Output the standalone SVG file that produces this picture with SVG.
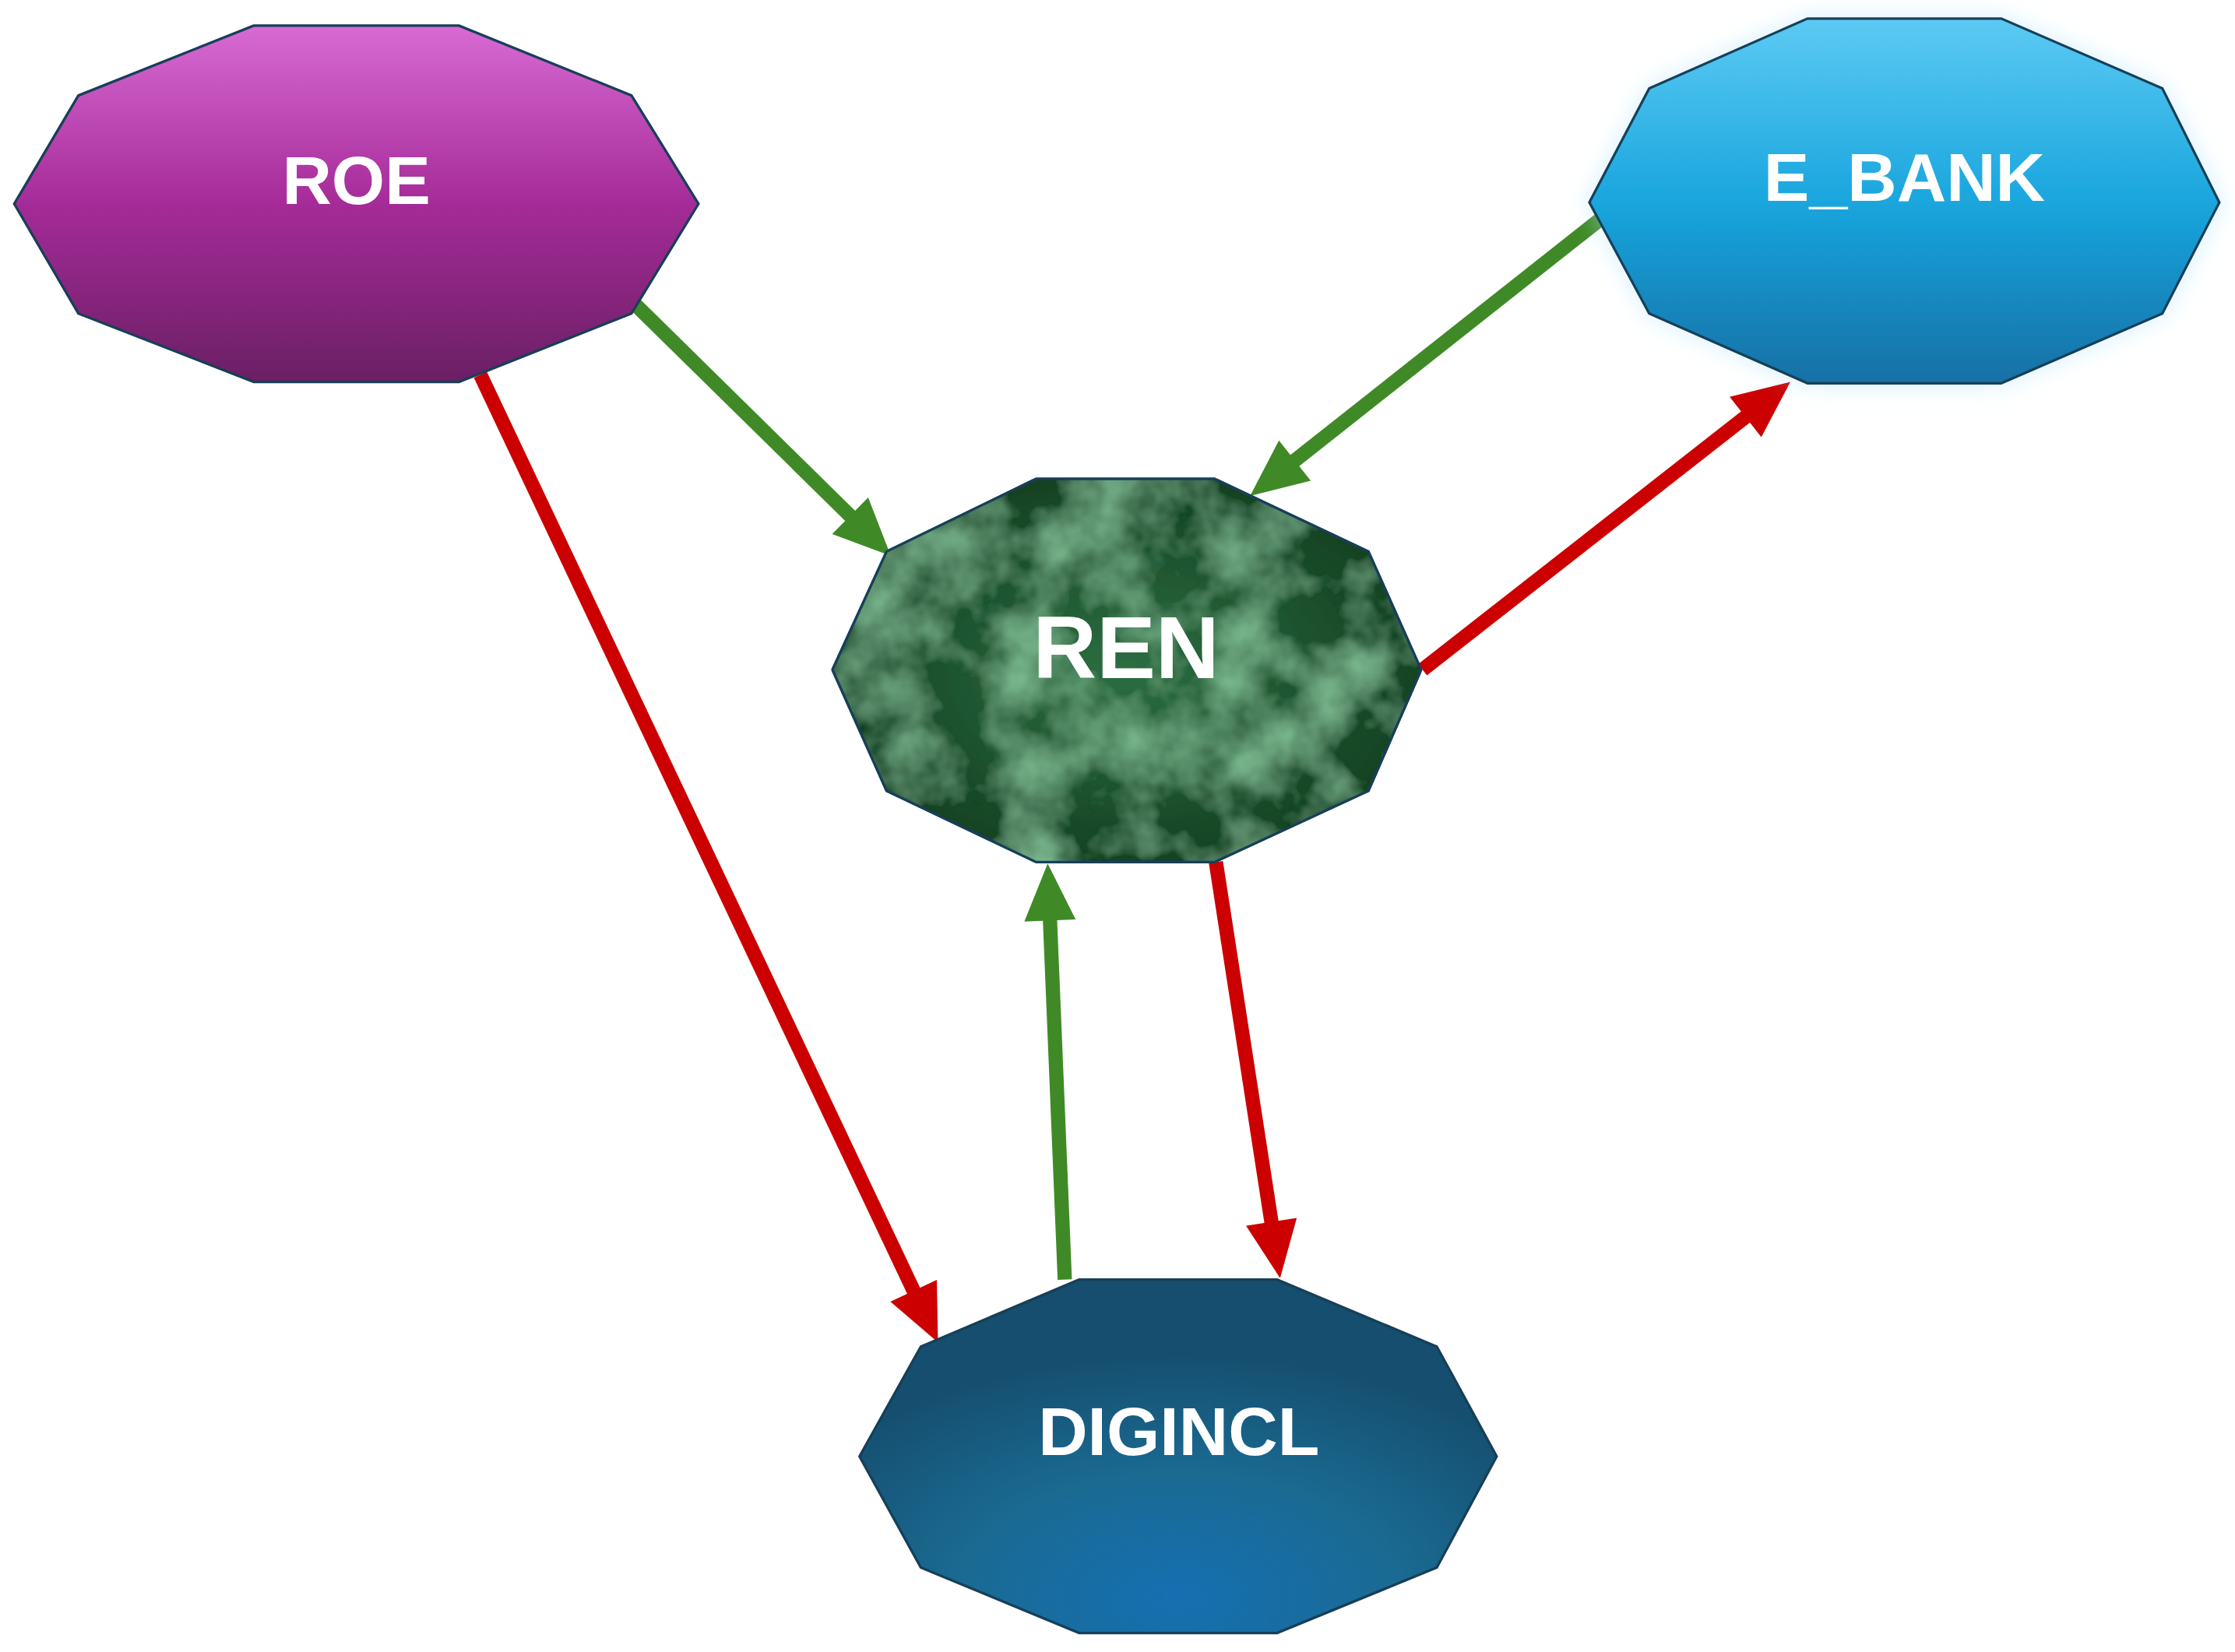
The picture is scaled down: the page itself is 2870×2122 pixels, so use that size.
<svg xmlns="http://www.w3.org/2000/svg" width="2870" height="2122" viewBox="0 0 2870 2122">
<defs>
<linearGradient id="gRoe" x1="0" y1="0" x2="0" y2="1"><stop offset="0" stop-color="#d86ad4"/><stop offset="0.5" stop-color="#a52b98"/><stop offset="1" stop-color="#6a1f64"/></linearGradient>
<linearGradient id="gBank" x1="0" y1="0" x2="0" y2="1"><stop offset="0" stop-color="#5ccaf3"/><stop offset="0.5" stop-color="#1aa6de"/><stop offset="1" stop-color="#1270a5"/></linearGradient>
<radialGradient id="gRen" cx="0.5" cy="0.5" r="0.6"><stop offset="0" stop-color="#2d6e42"/><stop offset="1" stop-color="#0f3a1d"/></radialGradient>
<radialGradient id="gDig" cx="0.5" cy="0.9" r="0.7"><stop offset="0" stop-color="#1570b2"/><stop offset="0.5" stop-color="#1a6a92"/><stop offset="1" stop-color="#154e6e"/></radialGradient>
<filter id="tex" x="0" y="0" width="1" height="1"><feTurbulence type="fractalNoise" baseFrequency="0.02" numOctaves="4" seed="3"/><feColorMatrix type="matrix" values="0 0 0 0 0.25  0 0 0 0 0.6  0 0 0 0 0.35  0 0 0 1.6 -0.6"/><feComposite in2="SourceGraphic" operator="in"/><feMerge><feMergeNode in="SourceGraphic"/><feMergeNode/></feMerge></filter>
<filter id="glow" x="-20%" y="-20%" width="140%" height="140%"><feGaussianBlur in="SourceAlpha" stdDeviation="8"/><feColorMatrix type="matrix" values="0 0 0 0 0.4 0 0 0 0 0.75 0 0 0 0 0.95 0 0 0 0.5 0"/><feMerge><feMergeNode/><feMergeNode in="SourceGraphic"/></feMerge></filter>
<marker id="aG" markerWidth="4" markerHeight="3.6" refX="2" refY="1.8" orient="auto" markerUnits="strokeWidth" overflow="visible"><path d="M0,0 L4,1.8 L0,3.6 Z" fill="#3f8a26"/></marker>
<marker id="aR" markerWidth="4" markerHeight="3.6" refX="2" refY="1.8" orient="auto" markerUnits="strokeWidth" overflow="visible"><path d="M0,0 L4,1.8 L0,3.6 Z" fill="#cc0000"/></marker>
<style>
.node{stroke:#173f58;stroke-width:1.8}
.lbl{font-family:"Liberation Sans",Arial,sans-serif;font-weight:bold;fill:#ffffff;text-anchor:middle}
.g{stroke:#3f8a26;stroke-width:10;fill:none;marker-end:url(#aG)}
.r{stroke:#cc0000;stroke-width:10;fill:none;marker-end:url(#aR)}
</style>
</defs>
<rect width="2870" height="2122" fill="#ffffff"/>
<g transform="scale(1.8304)">
<g id="connectors">
<path class="g" d="M445,213 L610.7,376"/>
<path class="g" d="M1125,152 L892.7,335.6"/>
<path class="r" d="M998,470 L1240.3,280.3"/>
<path class="r" d="M337,263 L649.5,923.9"/>
<path class="g" d="M747,898 L735.8,626"/>
<path class="r" d="M853,605 L895,877.2"/>
</g>
<g id="ROE"><polygon class="node" fill="url(#gRoe)" points="178,18 322,18 443,67 490,143 443,220 322,268 178,268 55,220 10,143 55,67"/><text class="lbl" x="250" y="143" font-size="48">ROE</text></g>
<g id="E_BANK" filter="url(#glow)"><polygon class="node" fill="url(#gBank)" points="1268,13 1404,13 1517,62 1557,142 1517,220 1404,269 1268,269 1157,220 1115,142 1157,62"/><text class="lbl" x="1336" y="141" font-size="48">E_BANK</text></g>
<g id="REN"><polygon class="node" fill="url(#gRen)" filter="url(#tex)" points="727,336 852,336 960,387 997,470 960,555 852,605 727,605 622,555 584,470 622,387"/><polygon class="node" fill="none" points="727,336 852,336 960,387 997,470 960,555 852,605 727,605 622,555 584,470 622,387"/><text class="lbl" x="790" y="476" font-size="62">REN</text></g>
<g id="DIGINCL"><polygon class="node" fill="url(#gDig)" points="757,898 896,898 1008,945 1050,1022 1008,1100 896,1146 757,1146 646,1100 603,1022 646,945"/><text class="lbl" x="827" y="1021" font-size="48">DIGINCL</text></g>
</g>
</svg>
